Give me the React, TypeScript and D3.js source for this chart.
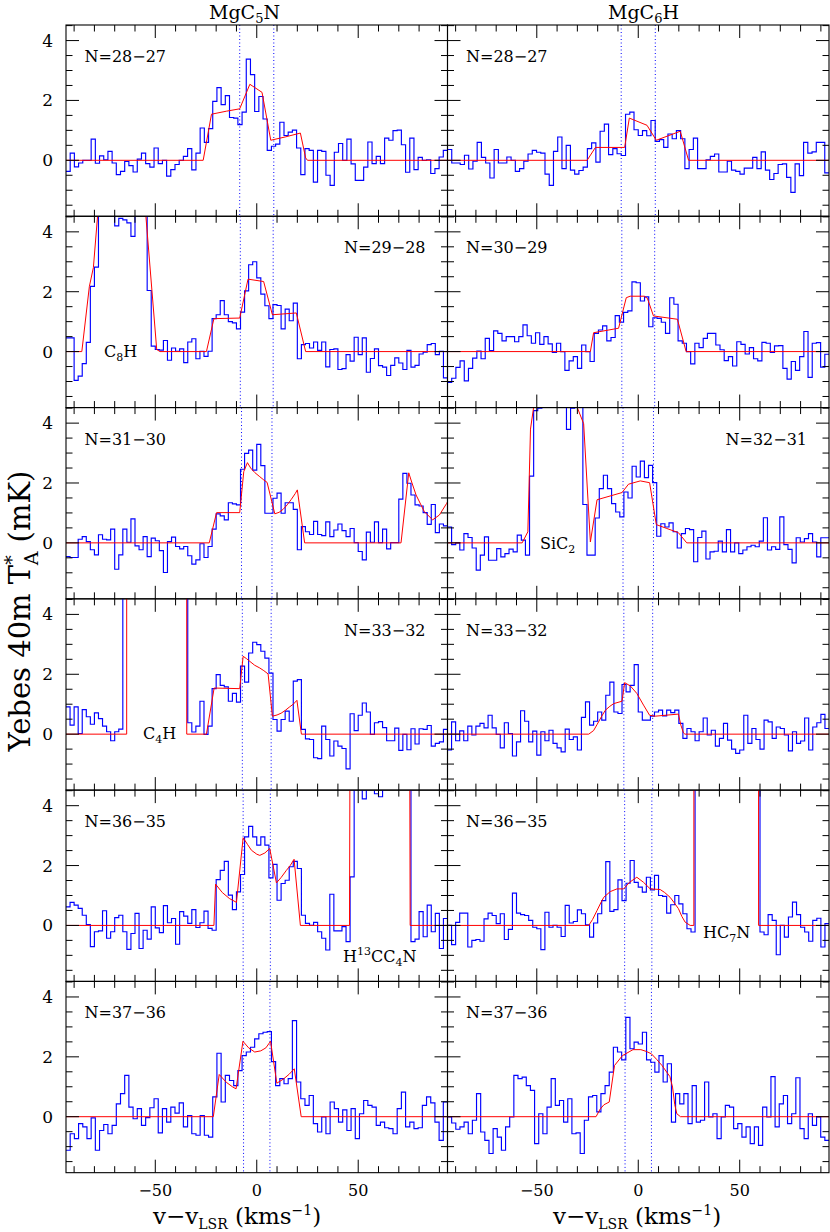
import React from 'react';
import * as d3 from 'd3';

// ---------- axes ----------
const V_DOMAIN: [number, number] = [-94, 94];
const T_DOMAIN: [number, number] = [-1.87, 4.52];
const X_MINOR = [-90, -80, -70, -60, -50, -40, -30, -20, -10, 0, 10, 20, 30, 40, 50, 60, 70, 80, 90];
const X_MAJOR = [-50, 0, 50];
const X_LABELS = ['−50', '0', '50'];
const Y_MINOR = [-1.5, -1, -0.5, 0, 0.5, 1, 1.5, 2, 2.5, 3, 3.5, 4, 4.5];
const Y_MAJOR = [0, 2, 4];
const Y_LABELS = ['0', '2', '4'];
// half separation of the two dotted velocity markers, per row (km/s)
const SPLIT = [8.4, 8.1, 7.5, 7.1, 6.7, 6.5];

// ---------- spectra (mK), uniform channels across [-94, 94] km/s ----------
const MGC5N_28 = [-0.37, 0.24, -0.22, -0.09, 0, 0, 0.71, -0.1, 0.15, 0.02,
  0.3, -0.09, -0.48, -0.37, -0.04, -0.18, -0.39, 0.04, 0.24, -0.11,
  -0.23, 0.41, -0.11, 0, -0.53, -0.31, -0.14, 0, 0.13, 0.39,
  -0.32, 0.24, 1.08, 0.6, 1.06, 1.97, 2.43, 1.86, 2.16, 1.43,
  1.41, 1.19, 1.61, 3.38, 2.86, 1.63, 2.13, 1.38, 0.33, 0.47,
  0.54, 1.27, 0.83, 0.94, 1.01, 0.41, -0.48, 0.39, 0.33, -0.73,
  0.33, 0.3, -0.5, -0.84, 0.27, 0.56, 0, 0.71, -0.12, -0.67,
  -0.67, -0.23, 0.61, -0.11, 0.13, -0.11, 0.74, 0.67, 0.99, 1.01,
  0.52, -0.4, 0.74, -0.31, 0.1, 0, 0.02, -0.44, -0.28, 0.11, 0.33];
const MGC6H_28 = [0.36, -0.09, -0.09, -0.14, 0.17, -0.29, -0.03, 0.6, 0.1, -0.09,
  -0.59, 0.36, -0.09, -0.09, 0.11, 0, -0.37, -0.28, -0.03, 0.21,
  0.33, 0.27, 0.24, -0.46, -0.84, 0.3, 0.78, -0.28, 0.5, -0.33,
  -0.46, -0.34, -0.23, 0.39, 0.58, -0.06, 0.97, 1.21, 0.19, 0.39,
  0.22, 0.16, 1.54, 1.61, 1.02, 0.83, 0.99, 0.82, 1.33, 0.63,
  0.69, 0.43, 0.88, 0.72, 0.99, 0.72, -0.28, 0.36, 0.74, -0.28,
  -0.28, 0.02, 0.13, 0.21, -0.39, -0.39, -0.03, -0.33, -0.37, -0.46,
  -0.26, -0.26, 0.1, -0.28, 0.28, -0.33, -0.64, -0.44, -0.14, -0.12,
  -0.57, -1.07, -0.12, -0.51, 0.6, 0.24, 0.28, 0.6, 0.6, -0.42];
const MGC5N_29 = [0.46, 0.46, -0.96, -0.82, -0.4, 0.31, 2.18, 2.82, 5.5, 6,
  6, 5.5, 4.2, 4.45, 4.4, 4.3, 3.85, 4.6, 5, 4.7,
  2.04, 0.18, 0.07, 0.05, 0.37, -0.29, 0.12, 0.01, 0.09, -0.37,
  0.32, 0.43, -0.24, 0.01, -0.16, 0.01, 1.1, 1.23, 1.7, 1.23,
  1.0, 0.96, 0.76, 1.32, 2.03, 2.9, 3.0, 2.46, 1.92, 1.53,
  1.1, 1.57, 1.54, 0.76, 1.42, 1.03, 1.62, -0.24, 0.23, 0.27,
  0.12, 0.32, 0.04, 0.32, -0.51, 0.07, 0.09, -0.6, -0.57, -0.1,
  -0.32, 0.48, -0.1, 0.46, -0.69, -0.23, 0.09, -0.47, -0.52, -0.8,
  -0.46, -0.21, -0.38, -0.6, 0.04, -0.52, -0.46, -0.08, -0.02, 0.23,
  0.27, -0.1, 0.01, -0.88];
const MGC6H_30 = [-1.03, -0.89, -0.53, -0.31, -0.98, -0.56, -0.22, 0.02, -0.24, 0.44,
  0.03, 0.69, 0.61, 0.36, 0.5, 0.5, 0.33, 0.5, 0.89, 0.53,
  0.28, 0.63, 0.24, 0.5, 0.26, -0.03, 0.28, 0, -0.63, -0.31,
  -0.17, -0.56, 0.22, 0, -0.33, 0.61, 0.72, 0.86, 0.36, 0.47,
  1.2, 0.98, 1.31, 1.36, 2.33, 2.3, 1.69, 1.83, 0.83, 1.13,
  1.11, 0.98, 0.61, 1.8, 1.58, 0.36, 0.28, 0, -0.41, 0.28,
  0.13, 0.44, 0.61, 0.61, 0.22, 0.06, -0.3, -0.17, -0.48, 0.33,
  0.24, -0.08, 0.13, -0.24, -0.31, 0.31, 0.28, -0.03, 0.19, 0.2,
  -0.56, -0.92, -0.33, -0.63, -0.17, 0.67, -0.86, 0.28, 0.3, -0.52, -0.09];
const MGC5N_31 = [-0.46, -0.49, -0.49, 0.12, 0.21, 0.04, -0.23, -0.4, 0.27, 0.12,
  0.1, 0.46, -0.88, -0.4, 0.46, 0.02, 0.8, -0.1, -0.23, 0.21,
  -0.46, 0.16, 0.07, -0.26, -0.99, 0.04, 0.19, -0.12, -0.2, -0.12,
  -0.43, -0.71, -0.57, -0.03, -0.49, -0.12, 0.46, 0.97, 0.9, 0.77,
  1.34, 1.3, 1.27, 2.46, 2.99, 3.1, 2.43, 3.29, 2.58, 0.99,
  0.99, 1.49, 1.66, 0.99, 1.34, 1.34, 1.12, -0.23, 0.54, 0.37,
  0.28, 0.72, 0.28, 0.24, 0.7, 0.21, 0.43, 0.63, 0.41, 0.21,
  0.48, 0.01, -0.29, -0.57, 0.36, 0.02, 0.7, 0.01, 0.46, -0.2,
  0.01, 0.01, 1.46, 2.32, 1.99, 1.6, 1.27, 1.23, 1.01, 0.62,
  1.28, 0.34, 0.63, 0.57];
const MGC6H_32 = [0.53, -0.06, 0, -0.24, 0.31, 0.18, -0.17, -0.91, -0.41, 0.2,
  -0.58, -0.58, -0.19, -0.47, -0.36, -0.21, -0.3, 0.26, 0.09, -0.41,
  2.23, 4.42, 4.5, 5.5, 6.2, 6.5, 6.5, 6.2, 5.5, 3.79,
  4.5, 5.2, 4.8, 1.28, -0.41, -0.41, 0.83, 1.81, 2.26, 1.81,
  1.31, 1.03, 0.87, 1.7, 1.5, 2.56, 2.2, 2.73, 2.18, 2.59,
  2.01, 0.22, 0.64, 0.53, 0.67, 0.37, -0.17, 0.31, 0.48, 0.44,
  -0.63, 0.18, 0.39, -0.54, -0.3, -0.28, 0.06, -0.3, 0.44, -0.3,
  0, -0.36, -0.24, -0.13, -0.08, -0.13, 0.06, 0.84, -0.24, -0.13,
  -0.22, 0.87, -0.06, -0.22, -0.67, 0.17, 0.03, 0.14, 0.31, 0.03,
  -0.47, 0.17, 0.17];
const MGC5N_33 = [0.91, 0.3, 0.91, 0.02, 0.82, 0.58, 0.33, 0.71, 0.52, 0.27,
  0.08, -0.22, 0.08, 0.17, 30, 30, 30, 30, 30, 30,
  30, 30, 30, 30, 30, 30, 30, 30, 30, 30,
  0.38, 0.07, 0.27, 1.1, -0.01, 0.27, 1.52, 1.99, 1.63, 1.58,
  1.1, 1.36, 1.07, 2.27, 1.74, 2.71, 3.07, 2.99, 2.77, 2.54,
  2.04, 0.49, 0.1, 0.49, 0.77, 0.43, 1.77, 1.82, 0.16, -0.16,
  -0.18, -0.79, -0.82, 0.27, -0.18, -0.73, -0.23, -0.4, -0.48, -1.16,
  0.68, 0.12, 0.63, 1.04, 0.74, -0.01, 0.38, 0.42, 0.22, -0.22,
  -0.22, 0.2, -0.54, -0.01, -0.52, 0.18, -0.33, 0.18, 0.16, 0.29,
  -0.4, -0.31, -0.26, 0.16];
const MGC6H_33 = [-0.53, 0.41, -0.22, 0.11, -0.22, 0.27, -0.03, 0.27, 0.36, 0.21,
  0.63, 0.21, -0.01, -0.46, 0.38, 0.02, -0.73, -0.26, 0.78, 0.43,
  -0.26, 0.1, -0.7, 0.08, -0.22, 0.13, -0.31, -0.46, -0.59, 0.17,
  -0.18, -0.09, -0.53, 0.56, 1.08, 0.3, 0.43, 0.74, 0.47, 1.3,
  1.74, 0.74, 0.69, 1.66, 1.41, 1.63, 2.32, 0.74, 0.47, 0.47,
  0.6, 0.74, 0.8, 0.61, 0.8, 0.72, 0.8, 0.36, -0.14, 0.19,
  0.08, -0.22, 0.08, 0.54, -0.03, 0.13, -0.4, -0.14, 0.36, -0.2,
  -0.5, -0.64, -0.53, 0.63, -0.31, 0.19, -0.18, -0.5, 0.47, 0.41,
  -0.14, 0.24, 0.19, -0.03, -0.56, 0.08, -0.31, -0.23, 0.54, -0.53,
  0.24, 0.38, 0.66, 0.19];
const MGC5N_36 = [0.62, 0.77, 0.68, 0.57, 0.34, 0.03, -0.71, -0.21, -0.18, 0.49,
  -0.43, -0.21, 0.26, 0.34, -0.21, -0.8, -0.27, 0.4, -0.77, -0.16,
  -0.46, 0.62, -0.08, -0.24, 0.66, 0.09, 0.23, -0.63, 0.46, 0.31,
  0.07, 0.53, -0.07, 0.09, 0.48, -0.1, -0.16, 1.53, 1.84, 2.14,
  1.01, 0.53, 1.12, 1.7, 2.96, 3.31, 2.96, 2.68, 2.96, 2.68,
  1.59, 2.04, 0.84, 1.4, 1.51, 1.96, 2.14, 1.9, 0.34, 0.07,
  0, 0.1, -0.21, -0.43, -0.82, 1.04, -0.18, -0.18, -0.04, -0.54,
  1.62, 6, 6.5, 4.23, 5.5, 6, 4.4, 4.3, 6, 6.5,
  6, 5.5, 5, 6, 6, -0.54, -0.46, 0.46, -0.38, 0.68,
  -0.21, 0.4, -0.77, 0.23];
const MGC6H_36 = [0, -0.64, 0.1, 0.41, 0.41, -0.72, -0.5, -0.47, -0.53, 0.22,
  0.41, 0.33, 0.06, 0.39, -0.47, -0.13, 1.08, 0.41, 0.36, 0.33,
  0.17, -0.06, -0.11, -0.81, 0.44, -0.06, 0, -0.06, -0.37, 0.67,
  0.08, 0.13, 0.52, 0.39, 0.02, -0.39, 0.08, 0.39, 0.83, 2.13,
  0.47, 0.53, 1.52, 0.83, 1.41, 2.17, 1.44, 1.28, 1.11, 1.61,
  1.19, 1.67, 1.0, 0.97, 0.41, 0.69, 1.0, 0.72, 0.39, -0.11,
  -0.22, 20, 20, 20, 20, 20, 20, 20, 20, 20,
  20, 20, 20, 20, 20, 20, 20, -0.22, -0.31, 0.36,
  0.17, -0.98, 0, -0.39, 0.28, 0.78, 0.36, -0.06, -0.22, -0.53,
  0.17, 0.24, -0.72, 0.06];
const MGC5N_37 = [-1.12, -0.57, -0.73, -0.23, -0.34, -0.73, -0.04, -1.12, -0.46, -0.26,
  -0.57, -0.29, 0.43, 0.77, 1.38, 0.32, -0.07, 0.27, -0.29, -0.03,
  0.3, 0.6, -0.54, 0.27, -0.18, 0.32, 0.12, 0.46, -0.34, 0.04,
  -0.57, -0.62, 0.04, -0.62, -0.68, 0.66, 2.12, 0.49, 1.38, 1.21,
  1.04, 1.54, 2.04, 2.16, 2.32, 2.6, 2.77, 2.82, 2.84, 1.84,
  1.04, 1.27, 1.1, 1.27, 3.21, 1.16, 0.6, 0.38, 0.71, -0.23,
  -0.51, -0.01, -0.57, 0.49, 0.27, -0.18, 0.23, -0.46, 0.27, -0.73,
  0.1, 0.54, 0.38, 0.32, -0.29, -0.18, -0.37, -0.4, -0.57, 0.27,
  0.82, -0.34, -0.18, -0.4, -0.37, 0.38, 0.66, 0.46, -0.18, -0.79, 0.49];
const MGC6H_37 = [-0.01, -0.21, -0.42, -0.34, -0.18, -0.57, -0.12, 0.77, -0.51, -0.79,
  -1.23, -0.4, -0.68, -1.12, -0.34, -0.01, 1.38, 1.27, 1.32, 1.04,
  0.88, -0.9, 0.1, -0.57, 0.32, 1.27, 0.38, 0.54, -0.18, 0.6,
  -0.57, -0.54, -1.23, -0.12, 0.66, 0.71, 0.16, 0.77, 1.04, 1.49,
  2.32, 2.16, 1.9, 3.32, 2.27, 2.49, 2.43, 2.82, 1.9, 1.82,
  1.49, 2.04, 1.16, 1.77, -0.18, 0.77, 0.43, 0.77, -0.23, 1.04,
  -0.18, -0.12, 1.16, -0.01, 0.1, -0.73, -0.01, 0.38, 0.32, -0.4,
  -0.23, -0.68, -0.34, -0.9, -0.34, -0.96, 0.32, -0.01, 1.34, -0.34,
  0.43, 0.71, -0.23, 0.1, 1.3, -0.4, -0.73, 0.1, -0.29, -0.01,
  -0.68, -0.79];

// ---------- model fits: [velocity km/s, T mK] ----------
const FIT_MGC5N_28: [number, number][] = [[-94, 0], [-26.4, 0], [-22.3, 1.54], [-15, 1.64], [-8.4, 1.72], [-3.4, 2.54], [2.6, 2.27], [6.9, 0.67], [14, 0.78], [21.5, 0.91], [24.1, 0.08], [25, 0], [94, 0]];
const FIT_MGC6H_28: [number, number][] = [[-94, 0], [-25.2, 0], [-21.1, 0.43], [-6.7, 0.43], [-4.4, 1.41], [4.3, 1.17], [8.9, 0.67], [20.7, 0.97], [24.8, 0], [94, 0]];
const FIT_MGC5N_29: [number, number][] = [[-94, 0], [-86.2, 0], [-82.5, 2.17], [-80.5, 2.81], [-78.4, 4.56], [-75, 6.0], [-65, 6.5], [-57, 6.0], [-54.6, 4.5], [-49.3, 0.07], [-47.7, 0], [-24.8, 0], [-21.1, 1.1], [-8.4, 1.12], [-4.3, 2.42], [3.4, 2.34], [7.7, 1.23], [19.5, 1.29], [24.1, 0], [94, 0]];
const FIT_MGC6H_30: [number, number][] = [[-94, 0], [-23.6, 0], [-22, 0.63], [-9.7, 0.78], [-5.9, 1.8], [-4, 1.85], [3, 1.85], [4.5, 1.78], [7.5, 1.19], [19.3, 1.08], [23.6, 0], [94, 0]];
const FIT_MGC5N_31: [number, number][] = [[-94, 0], [-23.4, 0], [-19.8, 1.01], [-8.4, 1.01], [-6.4, 2.38], [-4.6, 2.68], [-3, 2.5], [-1, 2.35], [1.5, 2.21], [3.5, 2.1], [5.1, 2.02], [8.9, 0.97], [11, 1.02], [13, 1.12], [15, 1.27], [17, 1.45], [19, 1.65], [20, 1.77], [23.6, 0], [71.1, 0], [74.9, 2.34], [76.5, 2.0], [78.5, 1.6], [82.6, 1.04], [86.7, 0.77], [90, 0.93], [93.6, 1.32], [95, 1.5]];
const FIT_MGC6H_32: [number, number][] = [[-94, 0], [-57.2, 0], [-54.4, 0.37], [-53.1, 3.8], [-51, 4.8], [-45, 7], [-38, 7.5], [-32, 6], [-30.5, 4.6], [-26.9, 3.98], [-23.6, 0.03], [-20.3, 1.44], [-8, 1.68], [-4.8, 1.96], [1, 2.07], [5.6, 2.01], [8.9, 0.61], [14.1, 0.48], [19.8, 0.34], [23.9, 0], [94, 0]];
const FIT_MGC5N_33: [number, number][] = [[-94, 0], [-64.1, 0], [-64, 40], [-34.6, 40], [-34.5, 0], [-24.8, 0], [-21, 1.54], [-8.4, 1.52], [-6.7, 2.6], [-5, 2.52], [-3.4, 2.43], [-1, 2.3], [1.5, 2.21], [3.5, 2.12], [5.6, 2.01], [7.7, 0.6], [10, 0.64], [12, 0.7], [14, 0.79], [16, 0.9], [18, 1.0], [19.8, 1.13], [22, 0], [94, 0]];
const FIT_MGC6H_33: [number, number][] = [[-94, 0], [-24.4, 0], [-22, 0.12], [-20.3, 0.32], [-18, 0.6], [-16.2, 0.8], [-14, 0.93], [-12.1, 1.02], [-8, 1.1], [-6.7, 1.72], [-3.9, 1.61], [-0.7, 1.36], [2.6, 0.97], [5.6, 0.63], [8.4, 0.6], [19.8, 0.67], [21, 0.3], [22.3, 0.04], [23, 0], [94, 0]];
const FIT_MGC5N_36: [number, number][] = [[-94, 0], [-21.1, 0], [-20.3, 1.38], [-17, 1.1], [-13.5, 0.9], [-10, 0.77], [-6.7, 2.93], [-4.5, 2.7], [-2.6, 2.51], [0, 2.38], [1.5, 2.34], [4, 2.42], [6.4, 2.57], [9.7, 1.42], [12, 1.6], [14.6, 1.84], [16.5, 2.0], [18.4, 2.21], [21.5, 0], [45.7, 0], [47.4, 40], [74.1, 40], [75.6, 0], [94, 0]];
const FIT_MGC6H_36: [number, number][] = [[-94, 0], [-24.4, 0], [-22.5, 0.2], [-20.3, 0.5], [-18.5, 0.75], [-17, 0.94], [-13.8, 1.13], [-10.5, 1.22], [-7.2, 1.22], [-4.3, 1.44], [-0.7, 1.61], [2.6, 1.44], [5.9, 1.22], [10.8, 1.2], [13, 1.1], [15.7, 0.94], [17.8, 0.75], [19.8, 0.56], [21.5, 0.3], [23.1, 0.11], [25.6, 0], [27.4, 0], [27.5, 40], [59.2, 40], [59.3, 0], [94, 0]];
const FIT_MGC5N_37: [number, number][] = [[-94, 0], [-21.4, 0], [-18.5, 1.41], [-15, 1.15], [-12, 1.0], [-10.2, 0.93], [-6.8, 2.52], [-4, 2.3], [-1, 2.16], [2, 2.2], [4.5, 2.3], [6.8, 2.52], [9.9, 1.12], [13, 1.25], [16, 1.42], [18.5, 1.6], [21.9, 0], [94, 0]];
const FIT_MGC6H_37: [number, number][] = [[-94, 0], [-20.8, 0], [-18.8, 0.25], [-16.9, 0.4], [-14.3, 0.49], [-11.7, 1.71], [-7.8, 2.04], [-2.6, 2.24], [1.3, 2.24], [4, 2.18], [6.5, 2.1], [9, 1.92], [11.7, 1.71], [15.6, 1.34], [16.9, 0.99], [18, 0.4], [19, 0.1], [20.8, 0], [94, 0]];

const LEFT_LABELS = ['N=28−27', 'N=29−28', 'N=31−30', 'N=33−32', 'N=36−35', 'N=37−36'];
const RIGHT_LABELS = ['N=28−27', 'N=30−29', 'N=32−31', 'N=33−32', 'N=36−35', 'N=37−36'];

// ---------- layout ----------
const W = 830, H = 1232;
const TOP = 25, ROW_H = 191.28;
const COL_X: [number, number][] = [[66, 447.5], [447.5, 829]];
const FONT = '"DejaVu Serif", serif';
const BLUE = '#0000ff', RED = '#ff0000';

type PanelDef = {
  row: number; col: number; spec: number[]; fit: [number, number][];
  label: string; alignRight: boolean; extra?: (x0: number, y0: number) => React.ReactNode;
};

const PANELS: PanelDef[] = [
  { row: 0, col: 0, spec: MGC5N_28, fit: FIT_MGC5N_28, label: LEFT_LABELS[0], alignRight: false },
  { row: 0, col: 1, spec: MGC6H_28, fit: FIT_MGC6H_28, label: RIGHT_LABELS[0], alignRight: false },
  {
    row: 1, col: 0, spec: MGC5N_29, fit: FIT_MGC5N_29, label: LEFT_LABELS[1], alignRight: true,
    extra: (x0, y0) => (
      <text x={x0 + 38} y={y0 + 140.5} fontSize={16} fontFamily={FONT}>C<tspan dy={4} fontSize={11}>8</tspan><tspan dy={-4}>H</tspan></text>
    ),
  },
  { row: 1, col: 1, spec: MGC6H_30, fit: FIT_MGC6H_30, label: RIGHT_LABELS[1], alignRight: false },
  { row: 2, col: 0, spec: MGC5N_31, fit: FIT_MGC5N_31, label: LEFT_LABELS[2], alignRight: false },
  {
    row: 2, col: 1, spec: MGC6H_32, fit: FIT_MGC6H_32, label: RIGHT_LABELS[2], alignRight: true,
    extra: (x0, y0) => (
      <text x={x0 + 92.5} y={y0 + 141.5} fontSize={16} fontFamily={FONT}>SiC<tspan dy={4} fontSize={11}>2</tspan></text>
    ),
  },
  {
    row: 3, col: 0, spec: MGC5N_33, fit: FIT_MGC5N_33, label: LEFT_LABELS[3], alignRight: true,
    extra: (x0, y0) => (
      <text x={x0 + 77} y={y0 + 140} fontSize={16} fontFamily={FONT}>C<tspan dy={4} fontSize={11}>4</tspan><tspan dy={-4}>H</tspan></text>
    ),
  },
  { row: 3, col: 1, spec: MGC6H_33, fit: FIT_MGC6H_33, label: RIGHT_LABELS[3], alignRight: false },
  {
    row: 4, col: 0, spec: MGC5N_36, fit: FIT_MGC5N_36, label: LEFT_LABELS[4], alignRight: false,
    extra: (x0, y0) => (
      <text x={x0 + 277} y={y0 + 171.5} fontSize={16} fontFamily={FONT}>H<tspan dy={-7} fontSize={11}>13</tspan><tspan dy={7}>CC</tspan><tspan dy={4} fontSize={11}>4</tspan><tspan dy={-4}>N</tspan></text>
    ),
  },
  {
    row: 4, col: 1, spec: MGC6H_36, fit: FIT_MGC6H_36, label: RIGHT_LABELS[4], alignRight: false,
    extra: (x0, y0) => (
      <text x={x0 + 255.5} y={y0 + 147.5} fontSize={16} fontFamily={FONT}>HC<tspan dy={4} fontSize={11}>7</tspan><tspan dy={-4}>N</tspan></text>
    ),
  },
  { row: 5, col: 0, spec: MGC5N_37, fit: FIT_MGC5N_37, label: LEFT_LABELS[5], alignRight: false },
  { row: 5, col: 1, spec: MGC6H_37, fit: FIT_MGC6H_37, label: RIGHT_LABELS[5], alignRight: false },
];

function Panel({ p }: { p: PanelDef }) {
  const [x0, x1] = COL_X[p.col];
  const y0 = TOP + p.row * ROW_H;
  const y1 = y0 + ROW_H;
  const x = d3.scaleLinear().domain(V_DOMAIN).range([x0, x1]);
  const y = d3.scaleLinear().domain(T_DOMAIN).range([y1, y0]);
  const n = p.spec.length;
  const dv = (V_DOMAIN[1] - V_DOMAIN[0]) / n;
  const pts: [number, number][] = p.spec.map((t, i) => [V_DOMAIN[0] + i * dv, t]);
  pts.push([V_DOMAIN[1], p.spec[n - 1]]);
  const step = d3.line<[number, number]>().x(d => x(d[0])).y(d => y(d[1])).curve(d3.curveStepAfter);
  const lin = d3.line<[number, number]>().x(d => x(d[0])).y(d => y(d[1]));
  const clipId = `clip-${p.row}-${p.col}`;
  const split = SPLIT[p.row];
  const isBottom = p.row === 5;
  const isLeft = p.col === 0;
  const MAJ = 13, MIN = 6.5;
  return (
    <g>
      <defs>
        <clipPath id={clipId}>
          <rect x={x0} y={y0} width={x1 - x0} height={y1 - y0} />
        </clipPath>
      </defs>
      <g clipPath={`url(#${clipId})`}>
        {[-split, split].map((v, i) => (
          <line key={i} x1={x(v)} x2={x(v)} y1={y0} y2={y1} stroke={BLUE} strokeWidth={1} strokeDasharray="1 2.5" />
        ))}
        <path d={step(pts) || ''} fill="none" stroke={BLUE} strokeWidth={1.15} />
        <path d={lin(p.fit) || ''} fill="none" stroke={RED} strokeWidth={1} />
      </g>
      {/* ticks */}
      <g stroke="#000" strokeWidth={1}>
        {X_MINOR.map(v => {
          const len = X_MAJOR.includes(v) ? MAJ : MIN;
          return (
            <g key={`xt${v}`}>
              <line x1={x(v)} x2={x(v)} y1={y0} y2={y0 + len} />
              <line x1={x(v)} x2={x(v)} y1={y1} y2={y1 - len} />
            </g>
          );
        })}
        {Y_MINOR.map(t => {
          const len = Y_MAJOR.includes(t) ? MAJ : MIN;
          return (
            <g key={`yt${t}`}>
              <line x1={x0} x2={x0 + len} y1={y(t)} y2={y(t)} />
              <line x1={x1} x2={x1 - len} y1={y(t)} y2={y(t)} />
            </g>
          );
        })}
      </g>
      <rect x={x0} y={y0} width={x1 - x0} height={y1 - y0} fill="none" stroke="#000" strokeWidth={1.1} />
      {/* labels */}
      <text x={p.alignRight ? x1 - 22 : x0 + 18.5} y={y0 + 37} fontSize={16} fontFamily={FONT}
        textAnchor={p.alignRight ? 'end' : 'start'}>{p.label}</text>
      {p.extra ? p.extra(x0, y0) : null}
      {isLeft && Y_MAJOR.map((t, i) => (
        <text key={`yl${t}`} x={x0 - 13} y={y(t) + 6} fontSize={17} fontFamily={FONT} textAnchor="end">{Y_LABELS[i]}</text>
      ))}
      {isBottom && X_MAJOR.map((v, i) => (
        <text key={`xl${v}`} x={x(v)} y={y1 + 23.5} fontSize={16} fontFamily={FONT} textAnchor="middle">{X_LABELS[i]}</text>
      ))}
    </g>
  );
}

export default function App() {
  return (
    <svg width={W} height={H} viewBox={`0 0 ${W} ${H}`}
      style={{ position: 'absolute', left: 0, top: 0, background: '#fff', display: 'block' }}>
      <rect x={0} y={0} width={W} height={H} fill="#fff" />
      {PANELS.map(p => <Panel key={`${p.row}-${p.col}`} p={p} />)}
      <text x={209} y={18.5} fontSize={19} fontFamily={FONT}>MgC<tspan dy={4} fontSize={13}>5</tspan><tspan dy={-4}>N</tspan></text>
      <text x={608} y={18.5} fontSize={19} fontFamily={FONT}>MgC<tspan dy={4} fontSize={13}>6</tspan><tspan dy={-4}>H</tspan></text>
      {[153, 553].map(xx => (
        <text key={xx} x={xx} y={1224} fontSize={23} fontFamily={FONT}>v−v<tspan dy={5} fontSize={14}>LSR</tspan><tspan dy={-5}> (kms</tspan><tspan dy={-9} fontSize={14}>−1</tspan><tspan dy={9}>)</tspan></text>
      ))}
      <text transform="translate(30,611) rotate(-90)" fontSize={29} fontFamily={FONT} textAnchor="middle">Yebes 40m T<tspan dy={-12} fontSize={19}>*</tspan><tspan dy={20} dx={-10} fontSize={19}>A</tspan><tspan dy={-8}> (mK)</tspan></text>
    </svg>
  );
}
